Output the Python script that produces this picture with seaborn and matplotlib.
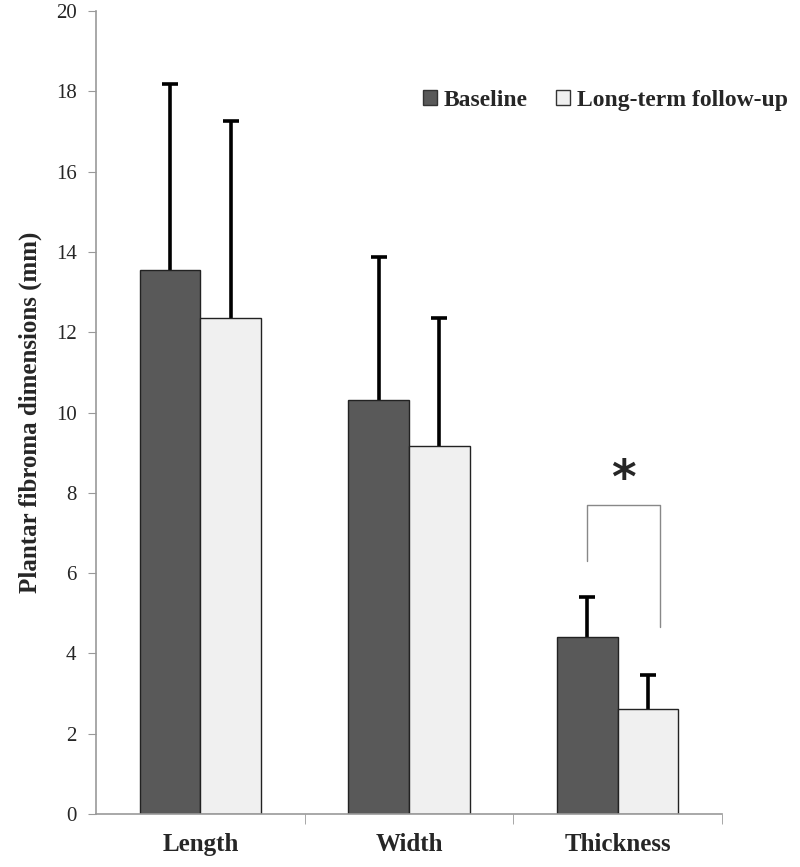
import numpy as np
import pandas as pd
import seaborn as sns
from matplotlib import pyplot as plt
from matplotlib.patches import Patch

sns.set_style("white")
plt.rcParams["font.family"] = ["Liberation Serif", "DejaVu Serif"]

categories = ["Length", "Width", "Thickness"]
groups = ["Baseline", "Long-term follow-up"]
baseline_mean = [13.55, 10.31, 4.41]
baseline_sd = [4.63, 3.56, 1.00]
followup_mean = [12.35, 9.17, 2.62]
followup_sd = [4.92, 3.18, 0.85]
colors = ["#595959", "#f0f0f0"]

df = pd.DataFrame({
  "Dimension": categories * 2,
  "Group": [groups[0]] * 3 + [groups[1]] * 3,
  "Value": baseline_mean + followup_mean,
})

fig = plt.figure(figsize=(8, 8.67), dpi=100)
ax = fig.add_axes([0.12, 0.0611, 0.7825, 0.9262])

sns.barplot(data=df, x="Dimension", y="Value", hue="Group", order=categories,
            hue_order=groups, palette=colors, errorbar=None, width=0.58,
            edgecolor="#222222", linewidth=1.0, ax=ax, legend=False)

# upper-only error bars
bars = list(ax.containers)
sds = [baseline_sd, followup_sd]
for i, cont in enumerate(bars):
  xs = [p.get_x() + p.get_width() / 2 for p in cont.patches]
  hs = [p.get_height() for p in cont.patches]
  eb = ax.errorbar(xs, hs, yerr=[np.zeros(3), sds[i]], fmt="none", ecolor="black",
                   elinewidth=2.6, capsize=6, capthick=2.6, zorder=1)
  eb[1][0].set_visible(False)
  for p in cont.patches:
    p.set_zorder(2)

# significance bracket on Thickness
p0 = bars[0].patches[2]
p1 = bars[1].patches[2]
bx0 = p0.get_x() + p0.get_width() / 2
bx1 = p1.get_x() + p1.get_width() * 0.7
ax.plot([bx0, bx0, bx1, bx1], [6.3, 7.7, 7.7, 4.66], color="#888888", linewidth=1.0)
ax.text((bx0 + bx1) / 2, 7.75, "*", ha="center", va="bottom", fontsize=34,
        fontweight="bold", family=["DejaVu Sans"])

ax.set_ylim(0, 20)
ax.set_xlim(-0.5, 2.5)
ax.set_yticks(np.arange(0, 21, 2))
ax.set_ylabel("Plantar fibroma dimensions (mm)", fontsize=18, fontweight="bold", labelpad=10)
ax.set_xlabel("")
ax.set_xticks([0, 1, 2])
ax.set_xticklabels(categories, fontsize=18, fontweight="bold")
ax.set_xticks([0.5, 1.5, 2.5], minor=True)
ax.tick_params(axis="x", which="major", length=0, pad=14)
ax.tick_params(axis="x", which="minor", length=7, color="#999999", direction="out", bottom=True)
ax.tick_params(axis="y", length=6, color="#999999", direction="out", left=True,
               labelsize=15, pad=8)

for s in ["top", "right"]:
  ax.spines[s].set_visible(False)
for s in ["left", "bottom"]:
  ax.spines[s].set_color("#999999")
  ax.spines[s].set_linewidth(1.2)

handles = [Patch(facecolor=colors[0], edgecolor="#333333"),
           Patch(facecolor=colors[1], edgecolor="#333333")]
ax.legend(handles, groups, loc="center right", bbox_to_anchor=(1.125, 0.889), ncol=2,
          frameon=False, prop={"weight": "bold", "size": 17}, handlelength=0.6,
          handleheight=0.6, handletextpad=0.3, columnspacing=1.2, borderpad=0)

plt.savefig("out.png", dpi=100)
